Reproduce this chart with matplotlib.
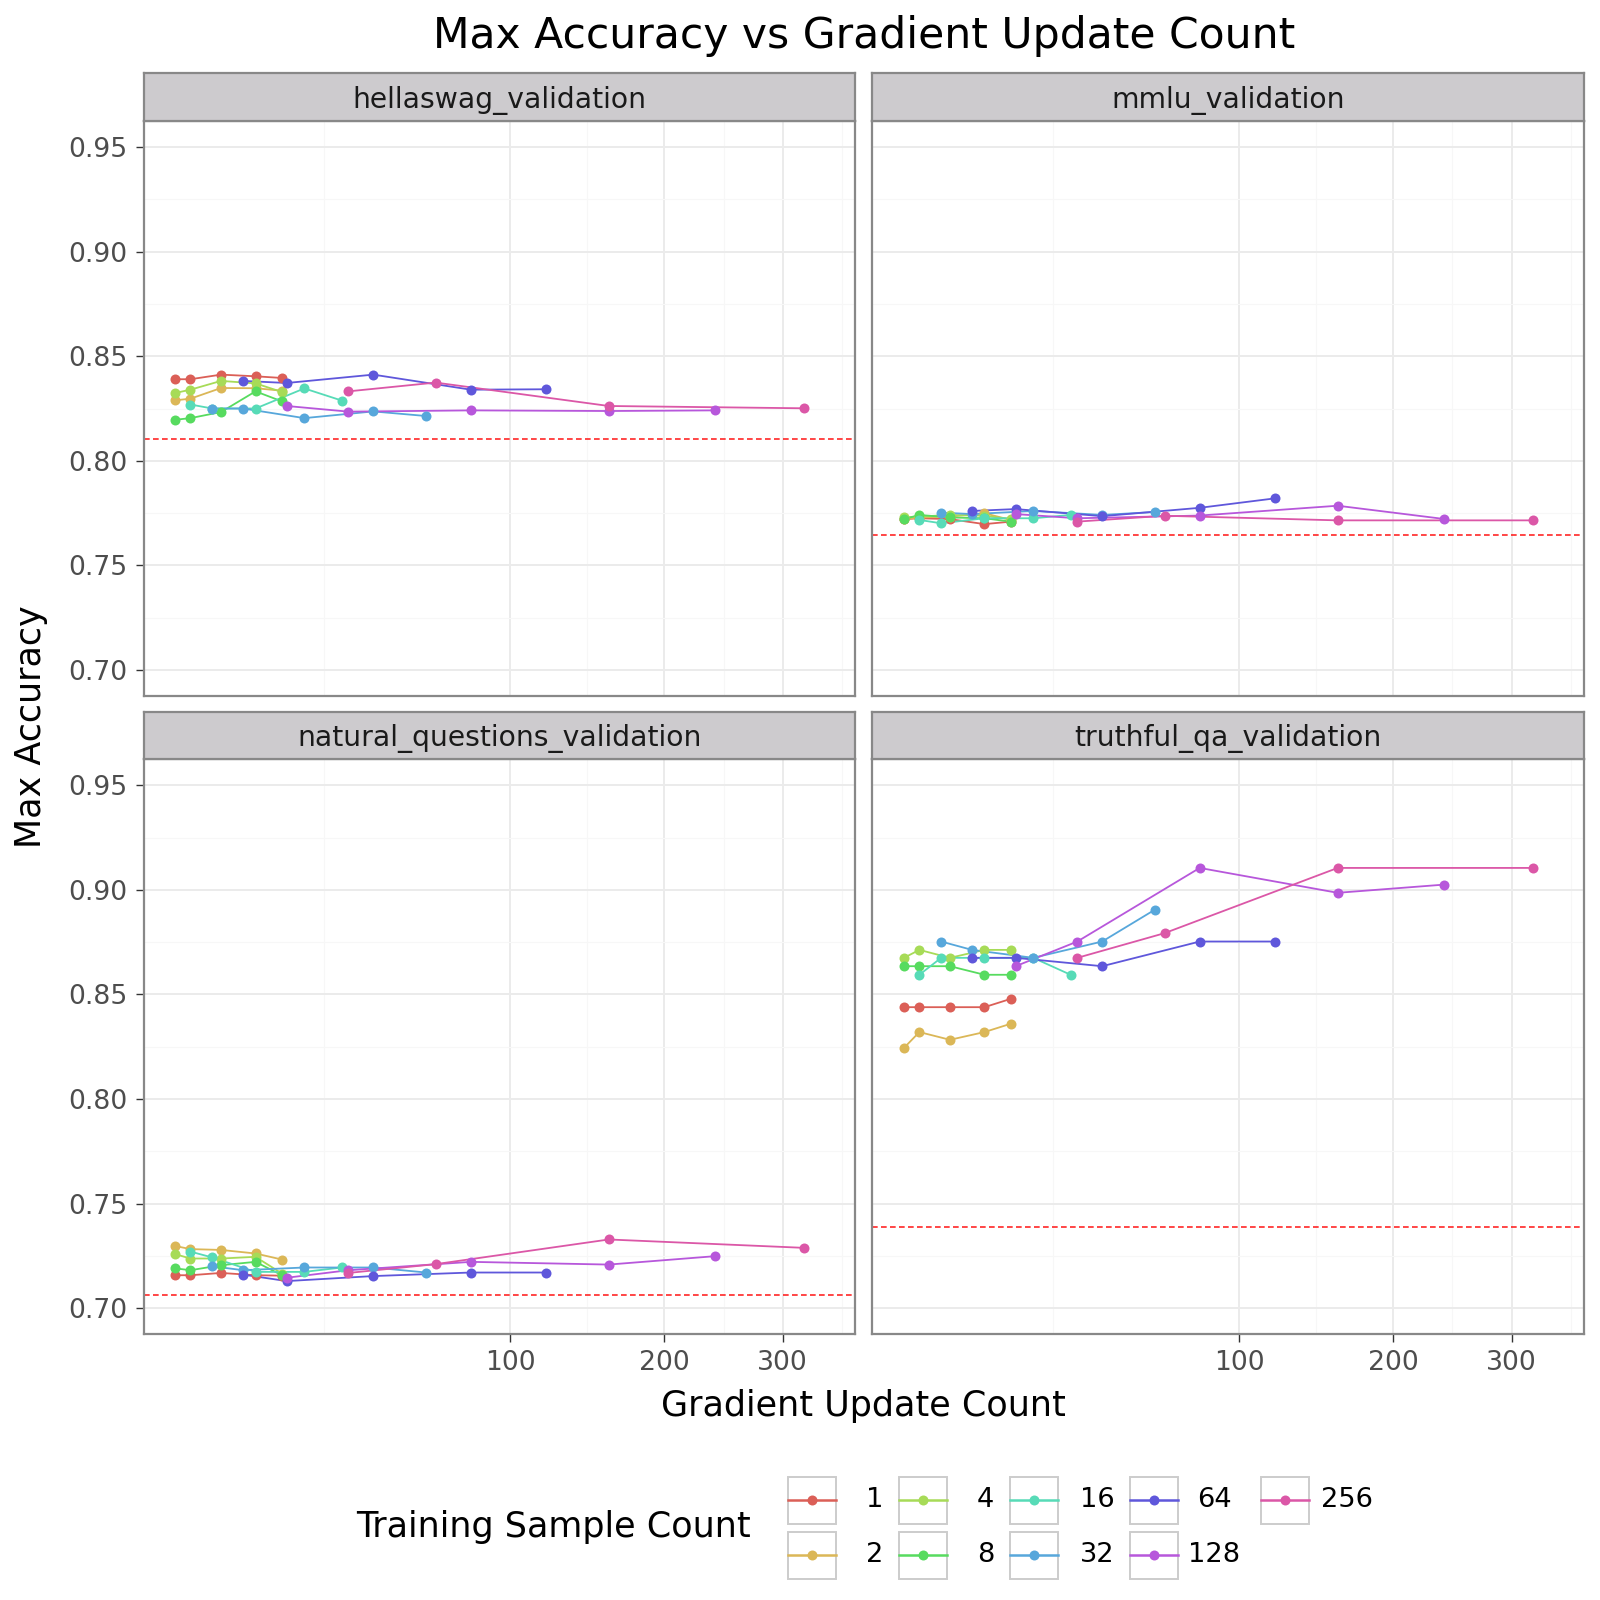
import colorsys
import numpy as np
import matplotlib
matplotlib.use("Agg")
import matplotlib.pyplot as plt
from matplotlib.lines import Line2D
from matplotlib.patches import Rectangle

# === data ===
sample_counts = [1, 2, 4, 8, 16, 32, 64, 128, 256]

# gradient update counts for each training sample count
updates_small = [1, 2, 5, 10, 15]          # 1, 2, 4, 8 samples
updates_16 = [2, 4, 10, 20, 30]
updates_32 = [4, 8, 20, 40, 60]
updates_64 = [8, 16, 40, 80, 120]
updates_128 = [16, 32, 80, 160, 240]
updates_256 = [32, 64, 160, 320]
updates = [updates_small, updates_small, updates_small, updates_small,
           updates_16, updates_32, updates_64, updates_128, updates_256]

hellaswag = [
    [0.8390, 0.8390, 0.8412, 0.8404, 0.8396],
    [0.8289, 0.8297, 0.8348, 0.8347, 0.8335],
    [0.8324, 0.8340, 0.8382, 0.8370, 0.8329],
    [0.8196, 0.8204, 0.8233, 0.8332, 0.8284],
    [0.8269, 0.8250, 0.8250, 0.8346, 0.8288],
    [0.8250, 0.8250, 0.8204, 0.8236, 0.8214],
    [0.8382, 0.8372, 0.8412, 0.8340, 0.8342],
    [0.8262, 0.8235, 0.8241, 0.8238, 0.8241],
    [0.8332, 0.8374, 0.8262, 0.8251],
]
mmlu = [
    [0.7721, 0.7725, 0.7721, 0.7697, 0.7709],
    [0.7721, 0.7729, 0.7733, 0.7749, 0.7717],
    [0.7729, 0.7733, 0.7741, 0.7737, 0.7721],
    [0.7721, 0.7741, 0.7729, 0.7725, 0.7709],
    [0.7717, 0.7701, 0.7725, 0.7725, 0.7741],
    [0.7752, 0.7745, 0.7760, 0.7741, 0.7755],
    [0.7760, 0.7769, 0.7735, 0.7775, 0.7820],
    [0.7745, 0.7725, 0.7738, 0.7785, 0.7722],
    [0.7709, 0.7737, 0.7715, 0.7715],
]
natural_questions = [
    [0.7157, 0.7157, 0.7168, 0.7157, 0.7155],
    [0.7297, 0.7282, 0.7278, 0.7261, 0.7232],
    [0.7258, 0.7237, 0.7237, 0.7245, 0.7165],
    [0.7190, 0.7181, 0.7205, 0.7221, 0.7157],
    [0.7270, 0.7242, 0.7173, 0.7173, 0.7194],
    [0.7200, 0.7181, 0.7194, 0.7194, 0.7170],
    [0.7160, 0.7129, 0.7153, 0.7170, 0.7170],
    [0.7145, 0.7181, 0.7221, 0.7208, 0.7248],
    [0.7168, 0.7210, 0.7328, 0.7288],
]
truthful_qa = [
    [0.8439, 0.8439, 0.8439, 0.8439, 0.8479],
    [0.8244, 0.8320, 0.8283, 0.8320, 0.8360],
    [0.8675, 0.8713, 0.8675, 0.8713, 0.8713],
    [0.8635, 0.8635, 0.8635, 0.8594, 0.8594],
    [0.8594, 0.8675, 0.8675, 0.8675, 0.8594],
    [0.8753, 0.8713, 0.8675, 0.8753, 0.8906],
    [0.8675, 0.8675, 0.8635, 0.8753, 0.8753],
    [0.8635, 0.8753, 0.9105, 0.8986, 0.9025],
    [0.8675, 0.8793, 0.9105, 0.9105],
]

tasks = ["hellaswag_validation", "mmlu_validation",
         "natural_questions_validation", "truthful_qa_validation"]
task_values = [hellaswag, mmlu, natural_questions, truthful_qa]
baselines = [0.8105, 0.7646, 0.7062, 0.7389]

y_ticks = [0.70, 0.75, 0.80, 0.85, 0.90, 0.95]
x_ticks = [100, 200, 300]

# plotnine 風の色 (hue palette)
colors = [colorsys.hls_to_rgb((0.01 + i / 9) % 1, 0.6, 0.65) for i in range(9)]

# === レイアウト (pixel -> figure) ===
W = 1600
def fx(p):
    return p / W
def fy(p):
    return 1 - p / W

panel_left = [143.5, 872.4]
panel_top = [121.0, 759.2]
panel_w = 711.4
panel_h = 575.0
strip_h = 47.7

border = "#888888"
fig = plt.figure(figsize=(8, 8), dpi=200)

sqrt_scale = (lambda x: np.sqrt(np.maximum(x, 0)), lambda x: np.square(x))

for k, task in enumerate(tasks):
    r, c = divmod(k, 2)
    left = panel_left[c]
    top = panel_top[r]
    ax = fig.add_axes([fx(left), fy(top + panel_h), panel_w / W, panel_h / W])
    ax.set_xscale("function", functions=sqrt_scale)
    ax.set_xlim(0.153 ** 2, 19.26 ** 2)
    ax.set_ylim(0.6875, 0.9625)

    ax.set_xticks(x_ticks)
    ax.set_xticklabels([str(t) for t in x_ticks])
    ax.set_xticks([25, 145.7, 247.5, 357.6], minor=True)
    ax.set_yticks(y_ticks)
    ax.set_yticklabels([f"{t:.2f}" for t in y_ticks])
    ax.set_yticks([0.725, 0.775, 0.825, 0.875, 0.925], minor=True)

    ax.grid(which="major", color="#EBEBEB", lw=0.7, zorder=0)
    ax.grid(which="minor", color="#F7F7F7", lw=0.4, zorder=0)
    ax.set_axisbelow(True)

    ax.tick_params(which="major", direction="out", length=2.75, width=0.5,
                   color="#333333", labelcolor="#4D4D4D", labelsize=9.6, pad=3)
    ax.tick_params(which="minor", length=0)
    if r == 0:
        ax.tick_params(axis="x", which="both", bottom=False, labelbottom=False)
    if c == 1:
        ax.tick_params(axis="y", which="both", left=False, labelleft=False)
    for s in ax.spines.values():
        s.set_color(border)
        s.set_linewidth(0.8)

    vals = task_values[k]
    for i in range(len(sample_counts)):
        ax.plot(updates[i], vals[i], color=colors[i], lw=0.65, zorder=2)
    for i in range(len(sample_counts)):
        ax.plot(updates[i], vals[i], "o", color=colors[i], ms=3.6, mew=0, zorder=3)

    ax.axhline(baselines[k], color="red", lw=0.6, alpha=0.85,
               linestyle=(0, (3.4, 2.0)), zorder=2.5)

    # strip
    sax = fig.add_axes([fx(left), fy(top), panel_w / W, strip_h / W])
    sax.set_facecolor("#CDCBCE")
    sax.set_xticks([])
    sax.set_yticks([])
    for s in sax.spines.values():
        s.set_color(border)
        s.set_linewidth(0.8)
    sax.text(0.5, 0.283, task, ha="center", va="baseline", fontsize=10.2,
             color="#1A1A1A", transform=sax.transAxes)

# タイトル・軸ラベル
fig.text(fx(863.8), fy(35.7), "Max Accuracy vs Gradient Update Count",
         ha="center", va="center", fontsize=15.3)
fig.text(fx(863.8), fy(1406), "Gradient Update Count",
         ha="center", va="center", fontsize=12.6)
fig.text(fx(30.6), fy(727), "Max Accuracy", rotation=90,
         ha="center", va="center", fontsize=12.6)

# 凡例
fig.text(fx(553), fy(1527.5), "Training Sample Count",
         ha="center", va="center", fontsize=12.6)
key_left = [787.5, 898.5, 1010, 1130, 1260.5]
label_cx = [874.5, 985.5, 1097, 1214, 1347]
row_cy = [1500, 1555]
key_w = 48
key_h = 47
for i, n in enumerate(sample_counts):
    col, row = divmod(i, 2)
    kx = key_left[col]
    cy = row_cy[row]
    fig.patches.append(Rectangle((fx(kx), fy(cy + key_h / 2)), key_w / W, key_h / W,
                                 transform=fig.transFigure, facecolor="white",
                                 edgecolor="#CCCCCC", lw=0.7))
    fig.lines.append(Line2D([fx(kx), fx(kx + key_w)], [fy(cy), fy(cy)],
                            transform=fig.transFigure, color=colors[i], lw=0.9))
    fig.lines.append(Line2D([fx(kx + key_w / 2)], [fy(cy)], marker="o", ms=3.6,
                            mew=0, transform=fig.transFigure, color=colors[i]))
    fig.text(fx(label_cx[col]), fy(cy), str(n), ha="center", va="center",
             fontsize=9.8)

fig.savefig("out.png", dpi=200)
